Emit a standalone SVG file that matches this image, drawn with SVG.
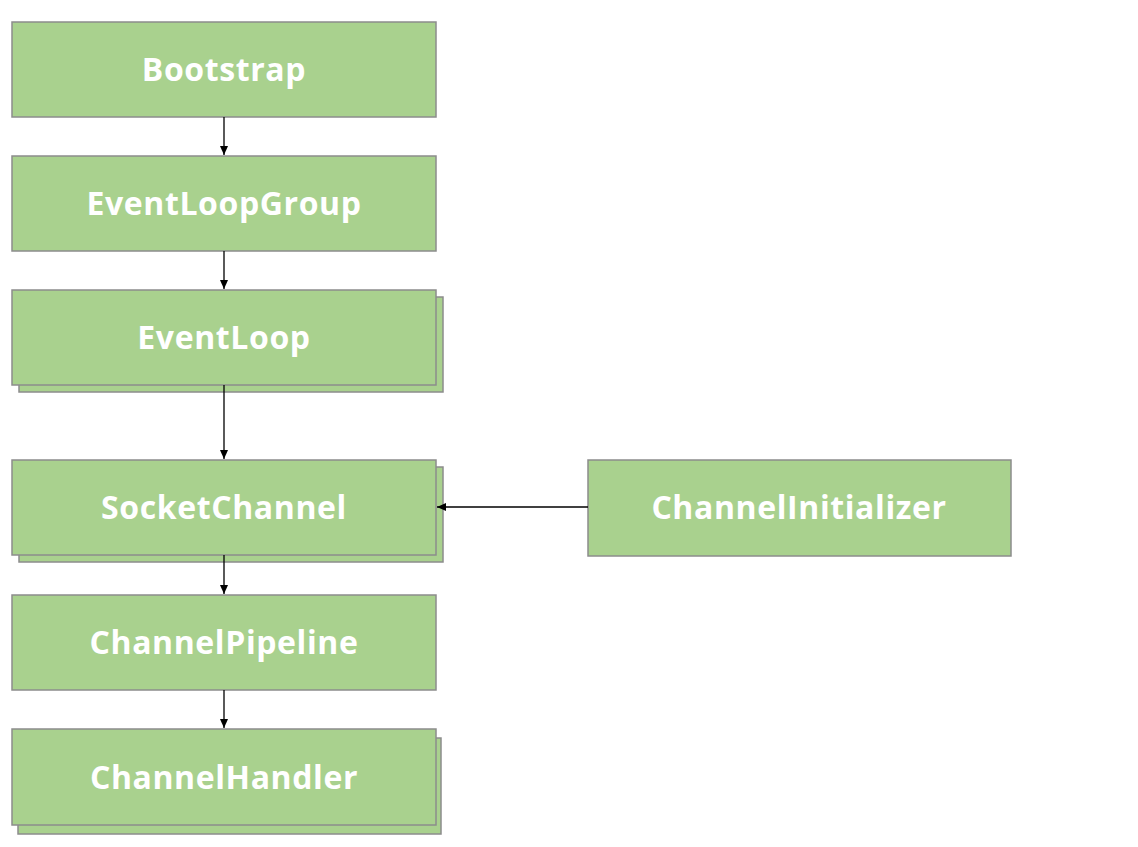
<svg xmlns="http://www.w3.org/2000/svg" width="1138" height="847" viewBox="0 0 1138 847">
<style>
.box{fill:#a9d18e;stroke:#8c8c8c;stroke-width:1.5}
.lbl{fill:#ffffff;font-family:"Open Sans","Noto Sans",sans-serif;font-weight:bold;font-size:32px;letter-spacing:0.6px;text-anchor:middle;dominant-baseline:central}
.conn{stroke:#000;stroke-width:1.3;fill:none;marker-end:url(#ah)}
</style>
<defs>
<marker id="ah" markerWidth="10" markerHeight="10" refX="9" refY="5" orient="auto" markerUnits="userSpaceOnUse">
<path d="M0,1 L9,5 L0,9 Z" fill="#000"/>
</marker>
</defs>
<rect width="1138" height="847" fill="#fff"/>
<g id="bootstrap">
<rect class="box" x="12" y="22" width="424" height="95"/>
<text class="lbl" x="224" y="68">Bootstrap</text>
</g>
<g id="eventloopgroup">
<rect class="box" x="12" y="156" width="424" height="95"/>
<text class="lbl" x="224" y="202">EventLoopGroup</text>
</g>
<g id="eventloop">
<rect class="box" x="19" y="297" width="424" height="95"/>
<rect class="box" x="12" y="290" width="424" height="95"/>
<text class="lbl" x="224" y="336">EventLoop</text>
</g>
<g id="socketchannel">
<rect class="box" x="19" y="467" width="424" height="95"/>
<rect class="box" x="12" y="460" width="424" height="95"/>
<text class="lbl" x="224" y="506">SocketChannel</text>
</g>
<g id="channelinitializer">
<rect class="box" x="588" y="460" width="423" height="96"/>
<text class="lbl" x="799" y="506">ChannelInitializer</text>
</g>
<g id="channelpipeline">
<rect class="box" x="12" y="595" width="424" height="95"/>
<text class="lbl" x="224" y="641">ChannelPipeline</text>
</g>
<g id="channelhandler">
<rect class="box" x="18" y="738" width="423" height="96"/>
<rect class="box" x="12" y="729" width="424" height="96"/>
<text class="lbl" x="224" y="776">ChannelHandler</text>
</g>
<g id="connectors">
<line class="conn" x1="224" y1="117" x2="224" y2="155"/>
<line class="conn" x1="224" y1="251" x2="224" y2="289"/>
<line class="conn" x1="224" y1="385" x2="224" y2="459"/>
<line class="conn" x1="224" y1="555" x2="224" y2="594"/>
<line class="conn" x1="224" y1="690" x2="224" y2="728"/>
<line class="conn" x1="588" y1="507" x2="437" y2="507"/>
</g>
</svg>
